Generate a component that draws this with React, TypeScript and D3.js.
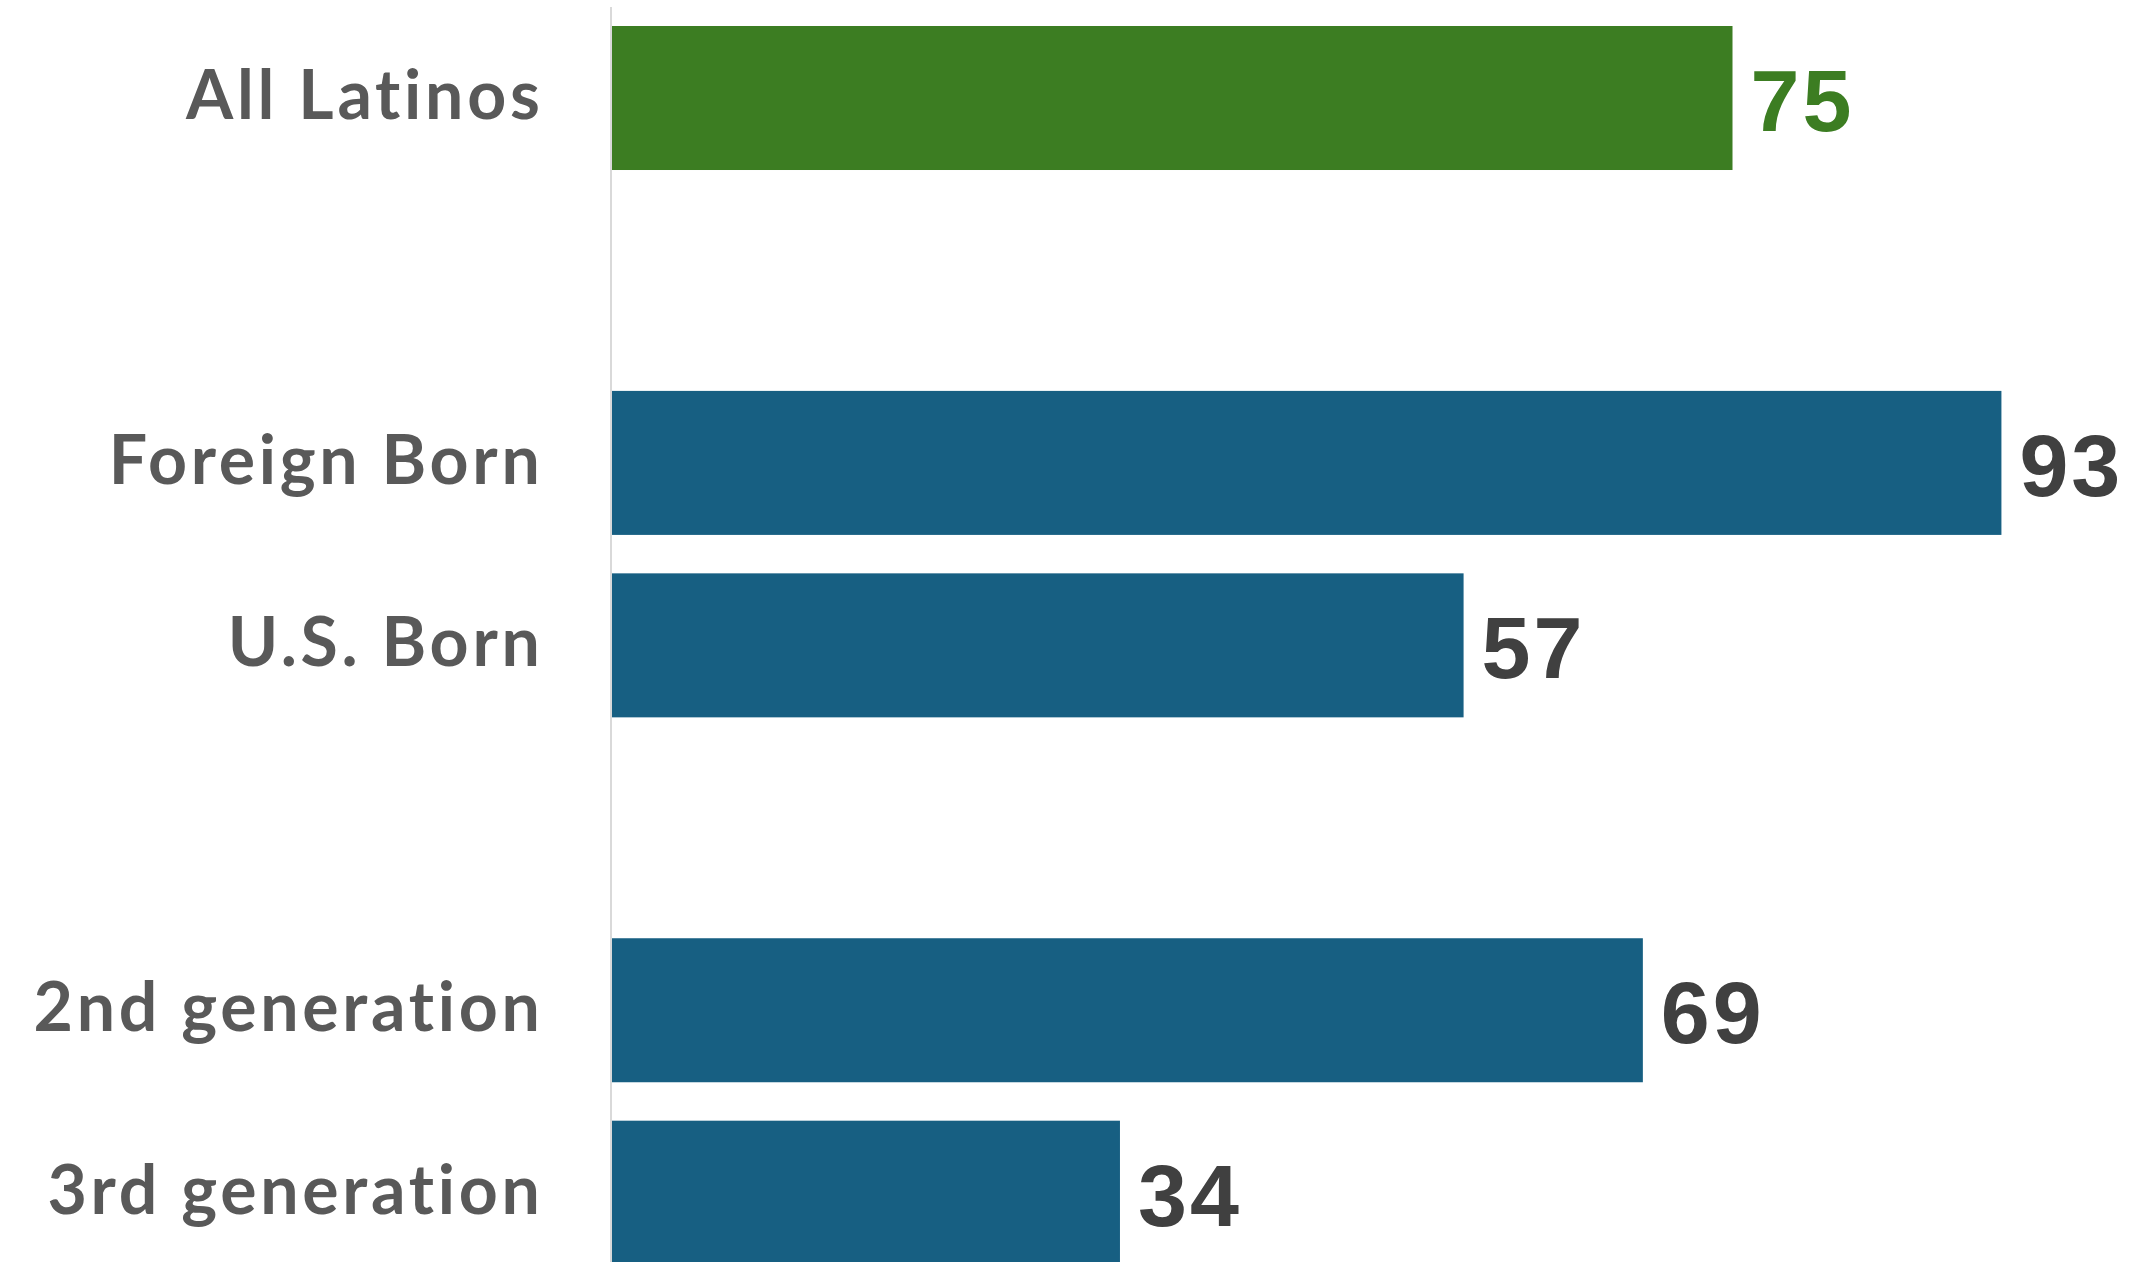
import React from "react";
import * as d3 from "d3";

const categories = ["All Latinos", "Foreign Born", "U.S. Born", "2nd generation", "3rd generation"];
const values = [75, 93, 57, 69, 34];
const slots = ["All Latinos", "gap1", "Foreign Born", "U.S. Born", "gap2", "2nd generation", "3rd generation"];
const highlight = ["All Latinos"];

const W = 2132;
const H = 1262;

export default function App() {
  const x = d3.scaleLinear().domain([0, 100]).range([612, 2106]);
  const y = d3.scaleBand<string>().domain(slots).range([26, 1264.7]).paddingInner(0.2107).paddingOuter(0);
  const bw = y.bandwidth();
  const green = "#3C7D22";
  const blue = "#175F82";
  return (
    <svg width={W} height={H} style={{ position: "absolute", left: 0, top: 0, background: "#fff" }}>
      <line x1={611} x2={611} y1={7} y2={H} stroke="#d9d9d9" strokeWidth={2} />
      {categories.map((c, i) => {
        const y0 = y(c) as number;
        const cy = y0 + bw / 2;
        const isHi = highlight.includes(c);
        return (
          <g key={c}>
            <rect x={x(0)} y={y0} width={x(values[i]) - x(0)} height={bw} fill={isHi ? green : blue} />
            <text
              x={543.5}
              y={cy + 21}
              textAnchor="end"
              fontFamily="Lato, 'Open Sans', sans-serif"
              fontWeight={700}
              fontSize={68}
              letterSpacing={3.7}
              fill="#595959"
            >
              {c}
            </text>
            <text
              x={x(values[i]) + 18}
              y={cy + 33}
              fontFamily="'Liberation Sans', Arial, sans-serif"
              fontWeight={700}
              fontSize={88}
              letterSpacing={3}
              fill={isHi ? green : "#404040"}
            >
              {d3.format("d")(values[i])}
            </text>
          </g>
        );
      })}
    </svg>
  );
}
